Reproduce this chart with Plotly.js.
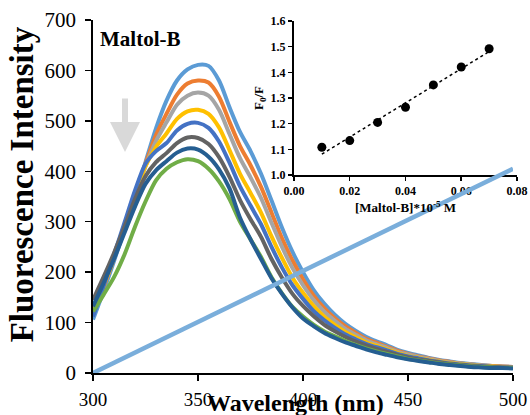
<!DOCTYPE html>
<html>
<head>
<meta charset="utf-8">
<script src="https://cdn.plot.ly/plotly-3.0.1.min.js"></script>
<style>html,body{margin:0;padding:0;background:#fff;}#chart{width:530px;height:415px;}</style>
</head>
<body>
<div id="chart"></div>
<script>
// ---- Main spectra data (wavelength in nm, fluorescence intensity) ----
var wavelength = [300,305,310,315,320,325,330,335,340,345,350,355,360,365,370,375,380,385,390,395,400,405,410,415,420,425,430,435,440,445,450,455,460,465,470,475,480,485,490,495,500];
var series1 = [106,162,222,285,350,418,485,540,580,602,611,609,580,527,478,440,395,342,288,240,200,165,138,116,98,84,72,63,55,46,40,35,30,26,23,20,18,16,14,13,12];
var series2 = [120,170,228,290,352,415,472,514,552,574,580,576,548,498,450,412,369,318,267,223,186,154,129,109,93,80,68,60,52,44,38,33,29,25,22,19,17,15,14,13,12];
var series3 = [125,175,230,290,350,410,460,497,532,550,556,550,522,474,426,388,347,298,250,208,174,145,122,104,88,76,65,57,50,42,37,32,28,24,21,19,17,15,13,12,11];
var series4 = [120,172,228,290,352,410,448,475,504,519,522,514,487,442,395,357,318,271,228,189,159,133,112,96,82,71,61,54,47,40,34,30,26,23,20,18,16,14,13,12,11];
var series5 = [112,172,235,298,362,415,440,456,481,494,496,486,459,417,370,332,295,250,209,174,147,123,105,90,77,67,58,51,45,38,33,29,25,22,19,17,15,14,12,11,11];
var series6 = [145,190,238,290,345,390,418,436,456,467,466,454,428,389,343,305,270,226,189,157,133,113,96,83,72,63,55,48,42,36,31,27,24,21,18,16,14,13,12,11,10];
var series7 = [132,178,226,278,330,375,402,420,437,445,443,429,404,366,308,265,226,188,157,130,108,93,80,70,61,54,47,41,36,31,27,24,21,18,16,14,12,11,10,10,9];
var series8 = [122,155,190,235,290,340,382,405,418,424,420,405,380,345,300,265,230,190,158,131,112,96,83,73,64,56,49,43,38,33,28,25,22,19,17,15,13,12,11,10,10];
var seriesColors = ['#5B9BD5','#ED7D31','#A5A5A5','#FFC000','#4472C4','#636363','#70AD47','#255E91'];
// diagonal straight series
var diagX = [300, 500];
var diagY = [0, 405];

// ---- Inset (Stern-Volmer) data ----
var conc = [0.01, 0.02, 0.03, 0.04, 0.05, 0.06, 0.07];
var f0f = [1.108, 1.134, 1.205, 1.264, 1.351, 1.421, 1.492];
var trendX = [0.01, 0.07];
var trendY = [1.081, 1.481];

// ---- Tick labels ----
var xTicks = [300, 350, 400, 450, 500];
var yTicks = [0, 100, 200, 300, 400, 500, 600, 700];
var insetXTicks = [0.00, 0.02, 0.04, 0.06, 0.08];
var insetYTicks = [1.0, 1.1, 1.2, 1.3, 1.4, 1.5, 1.6];

var serif = 'Liberation Serif, Times New Roman, serif';

var allSeries = [series1, series2, series3, series4, series5, series6, series8, series7];
var traces = [];
// inset traces (drawn first, in subplot xy)
traces.push({x: trendX, y: trendY, xaxis: 'x', yaxis: 'y', mode: 'lines', type: 'scatter',
  line: {color: '#000', width: 1.5, dash: 'dot'}, hoverinfo: 'skip'});
traces.push({x: conc, y: f0f, xaxis: 'x', yaxis: 'y', mode: 'markers', type: 'scatter',
  marker: {color: '#000', size: 9}});
// main spectra (subplot x2y2, drawn above inset)
for (var i = 0; i < allSeries.length; i++) {
  traces.push({x: wavelength, y: allSeries[i], xaxis: 'x2', yaxis: 'y2', mode: 'lines', type: 'scatter',
    line: {color: seriesColors[i], width: 4, shape: 'spline', smoothing: 0.8}});
}
traces.push({x: diagX, y: diagY, xaxis: 'x2', yaxis: 'y2', mode: 'lines', type: 'scatter',
  line: {color: '#7AAEDB', width: 4.5}});

var layout = {
  width: 530, height: 415,
  margin: {l: 93, r: 13, t: 20, b: 42},
  paper_bgcolor: '#fff', plot_bgcolor: 'rgba(0,0,0,0)',
  showlegend: false,
  font: {family: serif, color: '#000'},
  xaxis2: {domain: [0, 0.9906], range: [300, 500], anchor: 'y2', tickvals: xTicks,
    showline: true, linecolor: '#000', linewidth: 1.8, ticks: 'outside', ticklen: 6, tickwidth: 1.5, tickcolor: '#000',
    showgrid: false, zeroline: false, tickfont: {family: serif, size: 19, color: '#000'}, ticklabelstandoff: 2},
  yaxis2: {domain: [0, 1], range: [0, 700], anchor: 'x2', tickvals: yTicks,
    showline: true, linecolor: '#000', linewidth: 1.8, ticks: 'outside', ticklen: 6, tickwidth: 1.5, tickcolor: '#000',
    showgrid: false, zeroline: false, tickfont: {family: serif, size: 21, color: '#000'}, ticklabelstandoff: 5},
  xaxis: {domain: [0.474, 1], range: [0, 0.08], anchor: 'y', tickvals: insetXTicks, tickformat: '.2f',
    showline: true, linecolor: '#000', linewidth: 2, ticks: 'outside', ticklen: 4, tickwidth: 1.5, tickcolor: '#000',
    showgrid: false, zeroline: false, tickfont: {family: serif, size: 12, color: '#000', weight: 'bold'},
    title: {text: '[Maltol-B]*10<sup>-5</sup> M', font: {family: serif, size: 13, color: '#000', weight: 'bold'}, standoff: 6}},
  yaxis: {domain: [0.561, 0.997], range: [1.0, 1.6], anchor: 'x', tickvals: insetYTicks, tickformat: '.1f',
    showline: true, linecolor: '#000', linewidth: 2, ticks: 'outside', ticklen: 4, tickwidth: 1.5, tickcolor: '#000',
    showgrid: false, zeroline: false, tickfont: {family: serif, size: 12, color: '#000', weight: 'bold'},
    title: {text: 'F<sub>0</sub>/F', font: {family: serif, size: 13, color: '#000', weight: 'bold'}, standoff: 4}},
  annotations: [
    {text: '<b>Fluorescence Intensity</b>', xref: 'paper', yref: 'paper', x: -0.167, y: 0.535,
     xanchor: 'center', yanchor: 'middle', textangle: -90, showarrow: false,
     font: {family: serif, size: 33, color: '#000'}},
    {text: '<b>Wavelength (nm)</b>', xref: 'paper', yref: 'paper', x: 0.478, y: -0.085,
     xanchor: 'center', yanchor: 'middle', showarrow: false,
     font: {family: serif, size: 24, color: '#000'}},
    {text: '<b>Maltol-B</b>', xref: 'paper', yref: 'paper', x: 0.012, y: 0.945,
     xanchor: 'left', yanchor: 'middle', showarrow: false,
     font: {family: serif, size: 21, color: '#000'}},
    {text: '', xref: 'paper', yref: 'paper', x: 0.0755, y: 0.626, ax: 0, ay: -55,
     showarrow: true, arrowhead: 2, arrowsize: 1, arrowwidth: 6, arrowcolor: '#D9D9D9'}
  ]
};

Plotly.newPlot('chart', traces, layout, {displayModeBar: false, staticPlot: true});
</script>
</body>
</html>
